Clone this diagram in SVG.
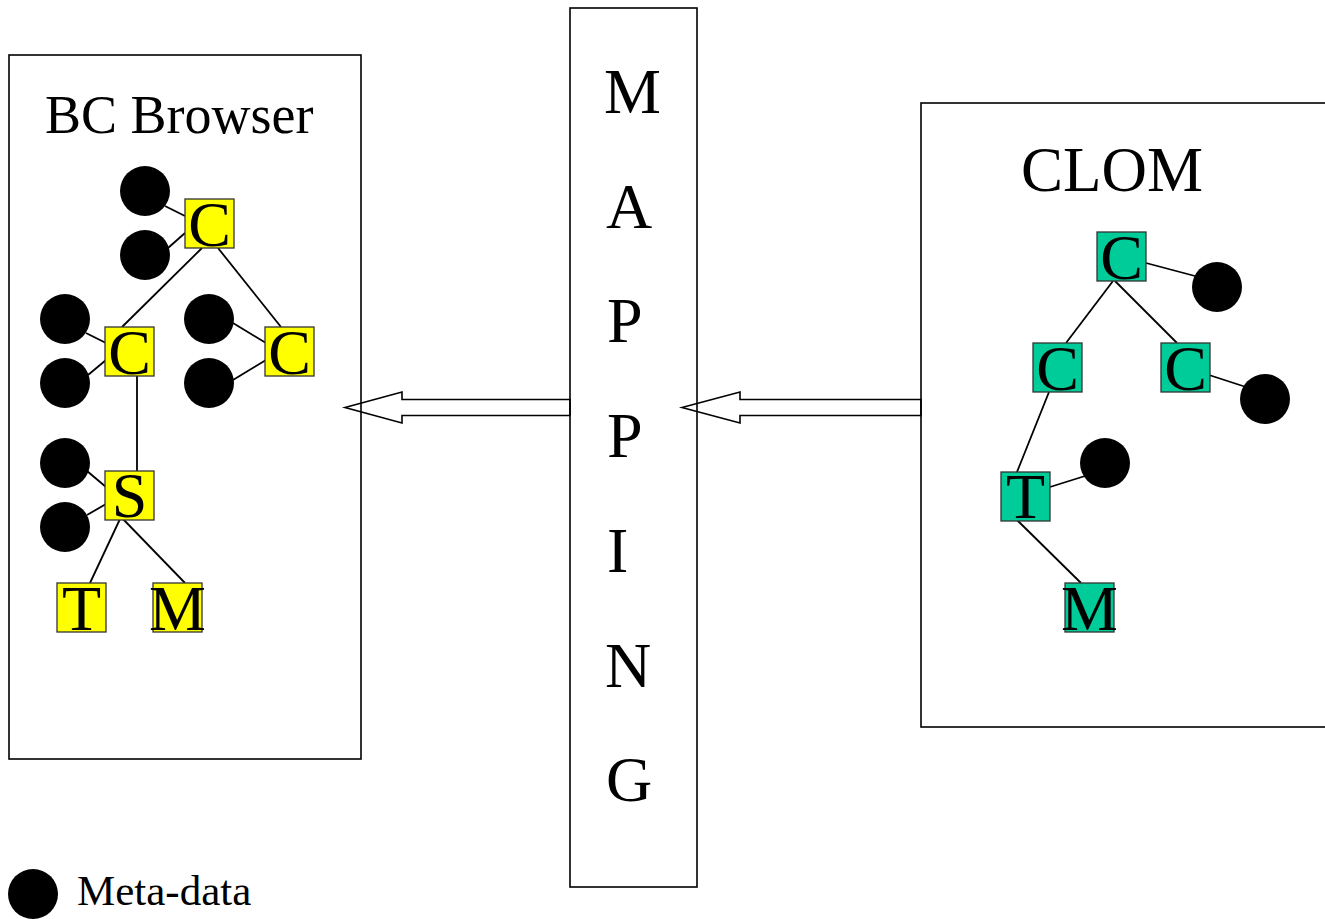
<svg xmlns="http://www.w3.org/2000/svg" width="1325" height="919" viewBox="0 0 1325 919">
  <style>
    .frame { fill: #fff; stroke: #000; stroke-width: 1.6; }
    .edge { stroke: #000; stroke-width: 1.8; fill: none; }
    .arrow { fill: none; stroke: #000; stroke-width: 1.6; stroke-linejoin: miter; }
    .meta { fill: #000; }
    .bc { fill: #ffff00; stroke: #333; stroke-width: 1.3; }
    .cl { fill: #00cc99; stroke: #333; stroke-width: 1.3; }
    .lbl { font-family: "Liberation Serif", "Times New Roman", serif; fill: #000; }
    .key { font-size: 64px; text-anchor: middle; }
  </style>
  <rect width="1325" height="919" fill="#fff"/>

  <!-- containers -->
  <g id="bc-browser">
    <rect class="frame" x="9" y="55" width="352" height="704"/>
    <text class="lbl" x="45" y="133" font-size="54">BC Browser</text>
  </g>
  <g id="mapping">
    <rect class="frame" x="570" y="8" width="127" height="879"/>
    <g class="lbl" font-size="64">
      <text x="604" y="113">M</text>
      <text x="606" y="228">A</text>
      <text x="607" y="342">P</text>
      <text x="607" y="457">P</text>
      <text x="607" y="572">I</text>
      <text x="605" y="687">N</text>
      <text x="606" y="801">G</text>
    </g>
  </g>
  <g id="clom">
    <rect class="frame" x="921" y="103" width="420" height="624"/>
    <text class="lbl" x="1021" y="191" font-size="63">CLOM</text>
  </g>

  <!-- connectors -->
  <g id="connectors">
    <polygon class="arrow" points="345,407.5 402,392 402,399.5 570,399.5 570,415.5 402,415.5 402,423"/>
    <polygon class="arrow" points="682,407.5 740,392 740,399.5 921,399.5 921,415.5 740,415.5 740,423"/>

    <!-- left tree -->
    <line class="edge" x1="165" y1="206" x2="185" y2="216"/>
    <line class="edge" x1="168" y1="248" x2="185" y2="233"/>
    <line class="edge" x1="202" y1="248" x2="122" y2="327"/>
    <line class="edge" x1="218" y1="248" x2="281" y2="327"/>
    <line class="edge" x1="86" y1="333" x2="106" y2="343"/>
    <line class="edge" x1="88" y1="375" x2="106" y2="360"/>
    <line class="edge" x1="233" y1="323" x2="266" y2="343"/>
    <line class="edge" x1="233" y1="380" x2="266" y2="360"/>
    <line class="edge" x1="137" y1="376" x2="137" y2="471"/>
    <line class="edge" x1="87" y1="471" x2="106" y2="487"/>
    <line class="edge" x1="87" y1="515" x2="106" y2="504"/>
    <line class="edge" x1="120" y1="519" x2="90" y2="583"/>
    <line class="edge" x1="123" y1="519" x2="185" y2="583"/>

    <!-- right tree -->
    <line class="edge" x1="1146" y1="263" x2="1195" y2="276"/>
    <line class="edge" x1="1113" y1="281" x2="1066" y2="343"/>
    <line class="edge" x1="1115" y1="281" x2="1177" y2="343"/>
    <line class="edge" x1="1209" y1="375" x2="1246" y2="387"/>
    <line class="edge" x1="1049" y1="392" x2="1017" y2="472"/>
    <line class="edge" x1="1050" y1="487" x2="1085" y2="476"/>
    <line class="edge" x1="1017" y1="520" x2="1081" y2="583"/>
  </g>

  <!-- left tree nodes -->
  <g id="bc-c-root">
    <rect class="bc" x="185" y="199" width="49" height="49"/>
    <text class="lbl key" x="209.5" y="246">C</text>
  </g>
  <g id="bc-c-left">
    <rect class="bc" x="105" y="327" width="49" height="49"/>
    <text class="lbl key" x="129.5" y="374">C</text>
  </g>
  <g id="bc-c-right">
    <rect class="bc" x="265" y="327" width="49" height="49"/>
    <text class="lbl key" x="289.5" y="374">C</text>
  </g>
  <g id="bc-s">
    <rect class="bc" x="105" y="471" width="49" height="49"/>
    <text class="lbl key" x="129.5" y="517">S</text>
  </g>
  <g id="bc-t">
    <rect class="bc" x="57" y="583" width="49" height="49"/>
    <text class="lbl key" x="81.5" y="630">T</text>
  </g>
  <g id="bc-m">
    <rect class="bc" x="153" y="583" width="49" height="49"/>
    <text class="lbl key" x="177.5" y="630">M</text>
  </g>
  <g id="bc-meta">
    <circle class="meta" cx="145" cy="191" r="25"/>
    <circle class="meta" cx="145" cy="255" r="25"/>
    <circle class="meta" cx="65" cy="319" r="25"/>
    <circle class="meta" cx="65" cy="383" r="25"/>
    <circle class="meta" cx="209" cy="319" r="25"/>
    <circle class="meta" cx="209" cy="383" r="25"/>
    <circle class="meta" cx="65" cy="463" r="25"/>
    <circle class="meta" cx="65" cy="527" r="25"/>
  </g>

  <!-- right tree nodes -->
  <g id="clom-c-root">
    <rect class="cl" x="1097" y="232" width="49" height="49"/>
    <text class="lbl key" x="1121.5" y="279">C</text>
  </g>
  <g id="clom-c-left">
    <rect class="cl" x="1033" y="343" width="49" height="49"/>
    <text class="lbl key" x="1057.5" y="390">C</text>
  </g>
  <g id="clom-c-right">
    <rect class="cl" x="1161" y="343" width="49" height="49"/>
    <text class="lbl key" x="1185.5" y="390">C</text>
  </g>
  <g id="clom-t">
    <rect class="cl" x="1001" y="472" width="49" height="49"/>
    <text class="lbl key" x="1025.5" y="518">T</text>
  </g>
  <g id="clom-m">
    <rect class="cl" x="1065" y="583" width="49" height="49"/>
    <text class="lbl key" x="1089.5" y="630">M</text>
  </g>
  <g id="clom-meta">
    <circle class="meta" cx="1217" cy="287" r="25"/>
    <circle class="meta" cx="1265" cy="399" r="25"/>
    <circle class="meta" cx="1105" cy="463" r="25"/>
  </g>

  <!-- legend -->
  <g id="legend">
    <circle class="meta" cx="33" cy="894" r="25"/>
    <text class="lbl" x="77" y="905" font-size="43">Meta-data</text>
  </g>
</svg>
